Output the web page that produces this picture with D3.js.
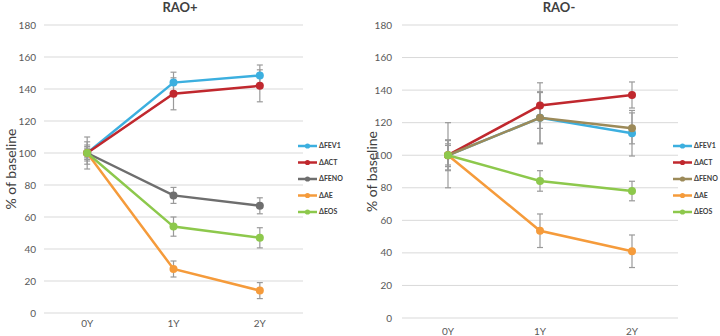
<!DOCTYPE html>
<html lang="en">
<head>
<meta charset="utf-8">
<script src="https://d3js.org/d3.v7.min.js"></script>
<style>
  body { margin: 0; background: #fff; }
  text { font-family: Lato, "Open Sans", sans-serif; }
</style>
</head>
<body>
<script>
  // data
  let years = ["0Y", "1Y", "2Y"];
  let seriesNames = ["ΔFEV1", "ΔACT", "ΔFENO", "ΔAE", "ΔEOS"];
  let yTicks = [0, 20, 40, 60, 80, 100, 120, 140, 160, 180];

  // RAO+ panel
  let fev1Pos = [100, 144, 148.5];
  let actPos = [100, 137, 142];
  let fenoPos = [100, 73.5, 67];
  let aePos = [100, 27.5, 14];
  let eosPos = [100, 54, 47];
  let fev1PosErr = [7, 6.5, 6.5];
  let actPosErr = [10, 10, 10];
  let fenoPosErr = [4, 5, 5];
  let aePosErr = [5, 5, 5];
  let eosPosErr = [3, 6, 6.3];

  // RAO- panel
  let fev1Neg = [100, 123, 113.5];
  let actNeg = [100, 130.5, 137];
  let fenoNeg = [100, 123, 116.5];
  let aeNeg = [100, 53.6, 41];
  let eosNeg = [100, 84.2, 78];
  let fev1NegErr = [7, 16, 14];
  let actNegErr = [9.5, 14, 8];
  let fenoNegErr = [6, 15.5, 9.5];
  let aeNegErr = [20, 10.3, 10];
  let eosNegErr = [9, 6.3, 6];

  let w = 720, h = 336;
  let svg = d3.select("body").append("svg")
      .attr("width", w)
      .attr("height", h);

  let errColor = "#9a9a9a";

  let panels = [
    {
      title: "RAO+",
      x0: 44, x1: 303, yTop: 25, yBot: 313,
      tickRight: 36, xLabelY: 327, yLabelX: 11, titleX: 180,
      legendX: 298,
      colors: ["#3cafdf", "#c0282e", "#6e6e6e", "#f59b3b", "#8dc84c"],
      values: [fev1Pos, actPos, fenoPos, aePos, eosPos],
      errs: [fev1PosErr, actPosErr, fenoPosErr, aePosErr, eosPosErr]
    },
    {
      title: "RAO-",
      x0: 402, x1: 678, yTop: 25, yBot: 318,
      tickRight: 392, xLabelY: 335, yLabelX: 372, titleX: 559,
      legendX: 673,
      colors: ["#3cafdf", "#c0282e", "#9c8a59", "#f59b3b", "#8dc84c"],
      values: [fev1Neg, actNeg, fenoNeg, aeNeg, eosNeg],
      errs: [fev1NegErr, actNegErr, fenoNegErr, aeNegErr, eosNegErr]
    }
  ];

  panels.forEach(function(p) {
    let x = d3.scalePoint().domain(years).range([p.x0, p.x1]).padding(0.5);
    let y = d3.scaleLinear().domain([0, 180]).range([p.yBot, p.yTop]);
    let g = svg.append("g");

    // gridlines
    g.selectAll("line.grid")
      .data(yTicks)
      .join("line")
        .attr("class", "grid")
        .attr("x1", p.x0).attr("x2", p.x1)
        .attr("y1", function(d) { return y(d); })
        .attr("y2", function(d) { return y(d); })
        .attr("stroke", "#d9d9d9")
        .attr("stroke-width", 1);

    // y tick labels
    g.selectAll("text.ytick")
      .data(yTicks)
      .join("text")
        .attr("class", "ytick")
        .attr("x", p.tickRight)
        .attr("y", function(d) { return y(d); })
        .attr("dy", "0.35em")
        .attr("text-anchor", "end")
        .attr("font-size", 10)
        .attr("fill", "#595959")
        .text(function(d) { return d; });

    // x tick labels
    g.selectAll("text.xtick")
      .data(years)
      .join("text")
        .attr("class", "xtick")
        .attr("x", function(d) { return x(d); })
        .attr("y", p.xLabelY)
        .attr("text-anchor", "middle")
        .attr("font-size", 10)
        .attr("fill", "#595959")
        .text(function(d) { return d; });

    // title
    g.append("text")
      .attr("x", p.titleX).attr("y", 12)
      .attr("text-anchor", "middle")
      .attr("font-size", 13)
      .attr("font-weight", "bold")
      .attr("fill", "#404040")
      .text(p.title);

    // y axis label
    g.append("text")
      .attr("transform", "translate(" + p.yLabelX + "," + ((p.yTop + p.yBot) / 2) + ") rotate(-90)")
      .attr("text-anchor", "middle")
      .attr("dy", "0.35em")
      .attr("font-size", 14)
      .attr("fill", "#404040")
      .text("% of baseline");

    let series = seriesNames.map(function(name, i) {
      return {
        name: name,
        color: p.colors[i],
        pts: years.map(function(yr, j) {
          return { yr: yr, v: p.values[i][j], e: p.errs[i][j] };
        })
      };
    });

    // error bars
    let allPts = [];
    series.forEach(function(s) { allPts = allPts.concat(s.pts); });
    let eb = g.selectAll("g.err").data(allPts).join("g").attr("class", "err")
      .attr("stroke", errColor).attr("stroke-width", 1.2);
    eb.append("line")
      .attr("x1", function(d) { return x(d.yr); })
      .attr("x2", function(d) { return x(d.yr); })
      .attr("y1", function(d) { return y(d.v + d.e); })
      .attr("y2", function(d) { return y(d.v - d.e); });
    [1, -1].forEach(function(sign) {
      eb.append("line")
        .attr("x1", function(d) { return x(d.yr) - 3; })
        .attr("x2", function(d) { return x(d.yr) + 3; })
        .attr("y1", function(d) { return y(d.v + sign * d.e); })
        .attr("y2", function(d) { return y(d.v + sign * d.e); });
    });

    let line = d3.line()
      .x(function(d) { return x(d.yr); })
      .y(function(d) { return y(d.v); });

    let sg = g.selectAll("g.series").data(series).join("g").attr("class", "series");
    sg.append("path")
      .attr("d", function(d) { return line(d.pts); })
      .attr("fill", "none")
      .attr("stroke", function(d) { return d.color; })
      .attr("stroke-width", 2.5);
    sg.selectAll("circle")
      .data(function(d) { return d.pts.map(function(pt) { return { pt: pt, color: d.color }; }); })
      .join("circle")
        .attr("cx", function(d) { return x(d.pt.yr); })
        .attr("cy", function(d) { return y(d.pt.v); })
        .attr("r", 4)
        .attr("fill", function(d) { return d.color; });

    // legend
    let lg = g.selectAll("g.legend").data(series).join("g").attr("class", "legend")
      .attr("transform", function(d, i) { return "translate(" + p.legendX + "," + (146 + i * 16.5) + ")"; });
    lg.append("line")
      .attr("x1", 0).attr("x2", 19).attr("y1", 0).attr("y2", 0)
      .attr("stroke", function(d) { return d.color; })
      .attr("stroke-width", 2.5);
    lg.append("circle")
      .attr("cx", 9.5).attr("cy", 0).attr("r", 2.6)
      .attr("fill", function(d) { return d.color; });
    lg.append("text")
      .attr("x", 21).attr("y", 0).attr("dy", "0.35em")
      .attr("font-size", 7)
      .attr("font-weight", "bold")
      .attr("fill", "#404040")
      .text(function(d) { return d.name; });
  });
</script>
</body>
</html>
